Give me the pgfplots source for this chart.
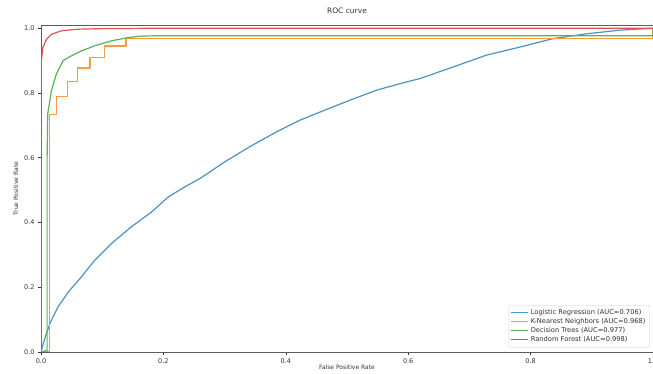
\documentclass[border=0pt]{standalone}
\usepackage{pgfplots}
\pgfplotsset{compat=1.18}
\usepackage{fontspec}
\setmainfont{DejaVu Sans}
\definecolor{tabblue}{HTML}{1F77B4}
\definecolor{taborange}{HTML}{FF7F0E}
\definecolor{tabgreen}{HTML}{2CA02C}
\definecolor{tabred}{HTML}{D62728}
\definecolor{txt}{HTML}{333333}
\begin{document}
\begin{tikzpicture}
\path[use as bounding box] (-41pt,-22pt) rectangle (612pt,352pt);
\begin{axis}[name=ax, at={(0,0)}, anchor=south west,
  scale only axis, width=612pt, height=327pt,
  xmin=0, xmax=1, ymin=0, ymax=1.01,
  xtick={0,0.2,0.4,0.6,0.8,1}, ytick={0,0.2,0.4,0.6,0.8,1},
  xticklabels={0.0,0.2,0.4,0.6,0.8,1.0}, yticklabels={0.0,0.2,0.4,0.6,0.8,1.0},
  tick align=outside, tick pos=left, major tick length=3pt,
  tick style={color=txt, line width=0.6pt},
  axis line style={color=txt!80, line width=0.7pt},
  /pgf/number format/assume math mode=true,
  ticklabel style={font=\fontsize{6.5}{7}\selectfont, text=txt},
  xlabel={False Positive Rate}, ylabel={True Positive Rate},
  label style={font=\fontsize{6}{7}\selectfont, text=txt},
  xlabel style={yshift=5pt}, ylabel style={yshift=-1pt},
  title={ROC curve}, title style={font=\fontsize{7.5}{8}\selectfont, text=txt, yshift=2pt},
  legend style={font=\fontsize{6.7}{7.5}\selectfont, text=txt, draw=black!18, rounded corners=1.5pt,
    at={(0.995,0.014)}, anchor=south east, row sep=-1.6pt, inner sep=2.2pt},
  legend cell align=left,
  legend image post style={line width=1pt},
  every axis plot/.append style={line width=1.2pt, line join=round},
]
\addplot[tabblue!80] coordinates {
(0,0) (0.005,0.035) (0.015,0.09) (0.028,0.14) (0.045,0.186) (0.066,0.232)
(0.088,0.284) (0.115,0.335) (0.148,0.387) (0.181,0.433) (0.208,0.479)
(0.235,0.51) (0.26,0.536) (0.30,0.587) (0.341,0.634) (0.385,0.68)
(0.423,0.716) (0.461,0.745) (0.505,0.778) (0.549,0.809) (0.587,0.829)
(0.62,0.845) (0.673,0.88) (0.728,0.917) (0.783,0.942) (0.837,0.968)
(0.892,0.983) (0.946,0.994) (1,1)};
\addlegendentry{Logistic Regression (AUC=0.706)}
\addplot[taborange!80] coordinates {
(0,0) (0.014,0) (0.014,0.733) (0.025,0.733) (0.025,0.79) (0.043,0.79)
(0.043,0.835) (0.06,0.835) (0.06,0.877) (0.08,0.877) (0.08,0.91)
(0.104,0.91) (0.104,0.945) (0.139,0.945) (0.139,0.968) (1,0.968) (1,1)};
\addlegendentry{K-Nearest Neighbors (AUC=0.968)}
\addplot[tabgreen!80] coordinates {
(0,0) (0.01,0.005) (0.01,0.6) (0.011,0.735) (0.017,0.807) (0.025,0.858)
(0.036,0.9) (0.05,0.915) (0.066,0.93) (0.088,0.946) (0.115,0.961)
(0.142,0.971) (0.165,0.976) (0.2,0.977) (1,0.977) (1,1)};
\addlegendentry{Decision Trees (AUC=0.977)}
\addplot[tabred!80] coordinates {
(0,0) (0,0.889) (0.003,0.94) (0.009,0.966) (0.017,0.981) (0.033,0.992)
(0.06,0.997) (0.104,0.999) (0.2,1) (1,1)};
\addlegendentry{Random Forest (AUC=0.998)}
\end{axis}
\end{tikzpicture}
\end{document}
